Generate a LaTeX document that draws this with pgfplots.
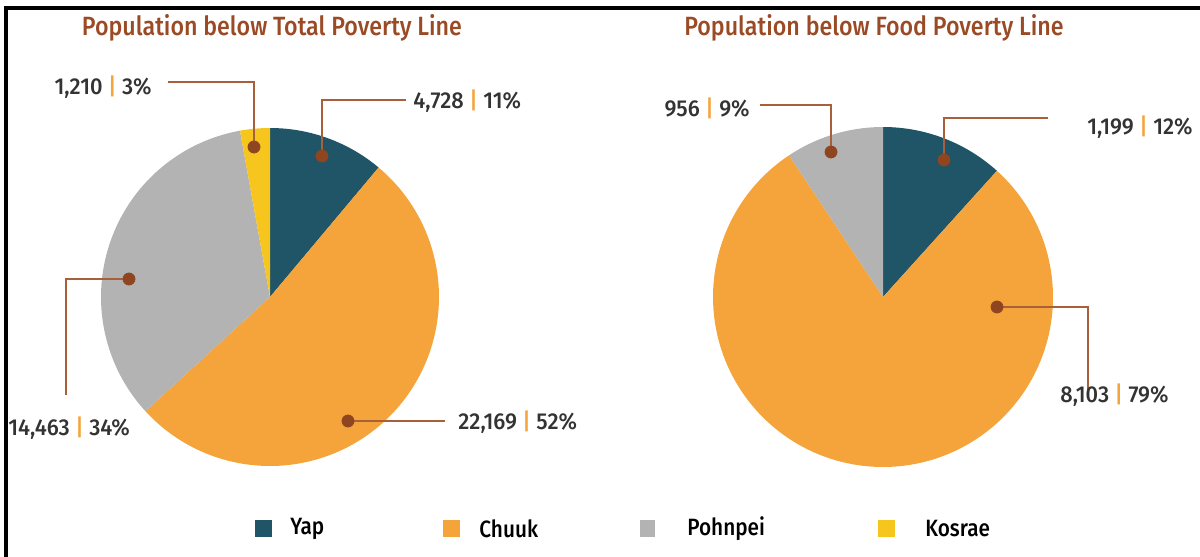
\documentclass[border=0pt]{standalone}
\usepackage{pgfplots}
\pgfplotsset{compat=1.18}
\usepackage{fontspec}
\setmainfont{Fira Sans}
\newfontfamily\cond{Fira Sans Medium}[FakeStretch=0.88]
\newfontfamily\med{Fira Sans Medium}[FakeStretch=0.95]
\definecolor{yap}{HTML}{1F5566}
\definecolor{chuuk}{HTML}{F4A43B}
\definecolor{pohnpei}{HTML}{B3B3B3}
\definecolor{kosrae}{HTML}{F6C51E}
\definecolor{ttl}{HTML}{9A4A24}
\definecolor{dotc}{HTML}{8E4520}
\definecolor{leadc}{HTML}{A8603A}
\definecolor{txt}{HTML}{333333}
\newcommand{\lbl}{\med\fontsize{11.5}{13}\selectfont\color{txt}}
\newcommand{\sep}{ \textcolor{chuuk}{|} }
% values
\def\TYap{4728}\def\TChuuk{22169}\def\TPohnpei{14463}\def\TKosrae{1210}
\def\FYap{1199}\def\FChuuk{8103}\def\FPohnpei{956}
\edef\tA{\fpeval{round(360*\TYap/(\TYap+\TChuuk+\TPohnpei+\TKosrae),3)}}
\edef\tB{\fpeval{round(360*(\TYap+\TChuuk)/(\TYap+\TChuuk+\TPohnpei+\TKosrae),3)}}
\edef\tC{\fpeval{round(360*(\TYap+\TChuuk+\TPohnpei)/(\TYap+\TChuuk+\TPohnpei+\TKosrae),3)}}
\edef\fA{\fpeval{round(360*\FYap/(\FYap+\FChuuk+\FPohnpei),3)}}
\edef\fB{\fpeval{round(360*(\FYap+\FChuuk)/(\FYap+\FChuuk+\FPohnpei),3)}}
\begin{document}
\begin{tikzpicture}
\begin{axis}[width=600pt,height=278.5pt,scale only axis,
  xmin=0,xmax=1200,ymin=0,ymax=557,y dir=reverse,
  hide axis,clip=false]
% frame (top bar and left edge)
\fill[black] (axis cs:5,6) rectangle (axis cs:1200,10);
\fill[black] (axis cs:4,6) rectangle (axis cs:8,557);
% titles
\node[font=\cond\fontsize{13.2}{15}\selectfont,color=ttl] at (axis cs:272,28) {Population below Total Poverty Line};
\node[font=\cond\fontsize{13.2}{15}\selectfont,color=ttl] at (axis cs:874,28) {Population below Food Poverty Line};
% left pie
\addplot[fill=yap,draw=none,domain=0:\tA,samples=60] ({270+169*sin(x)},{297-169*cos(x)}) -- (axis cs:270,297) -- cycle;
\addplot[fill=chuuk,draw=none,domain=\tA:\tB,samples=120] ({270+169*sin(x)},{297-169*cos(x)}) -- (axis cs:270,297) -- cycle;
\addplot[fill=pohnpei,draw=none,domain=\tB:\tC,samples=100] ({270+169*sin(x)},{297-169*cos(x)}) -- (axis cs:270,297) -- cycle;
\addplot[fill=kosrae,draw=none,domain=\tC:360,samples=20] ({270+169*sin(x)},{297-169*cos(x)}) -- (axis cs:270,297) -- cycle;
% right pie
\addplot[fill=yap,draw=none,domain=0:\fA,samples=60] ({883+170*sin(x)},{297-170*cos(x)}) -- (axis cs:883,297) -- cycle;
\addplot[fill=chuuk,draw=none,domain=\fA:\fB,samples=160] ({883+170*sin(x)},{297-170*cos(x)}) -- (axis cs:883,297) -- cycle;
\addplot[fill=pohnpei,draw=none,domain=\fB:360,samples=40] ({883+170*sin(x)},{297-170*cos(x)}) -- (axis cs:883,297) -- cycle;
% leader lines
\addplot[leadc,line width=0.8pt] coordinates {(168,82) (254,82) (254,147)};
\addplot[leadc,line width=0.8pt] coordinates {(322,156) (322,100) (406,100)};
\addplot[leadc,line width=0.8pt] coordinates {(129,279) (66,279) (66,395)};
\addplot[leadc,line width=0.8pt] coordinates {(348,421) (445,421)};
\addplot[leadc,line width=0.8pt] coordinates {(760,105) (831,105) (831,152)};
\addplot[leadc,line width=0.8pt] coordinates {(944,160) (944,118) (1048,118)};
\addplot[leadc,line width=0.8pt] coordinates {(997,307) (1088,307) (1088,390)};
% dots
\addplot[only marks,mark=*,mark size=3pt,mark options={fill=dotc,draw=dotc}] coordinates {(254,147) (322,156) (129,279) (348,421) (831,152) (944,160) (997,307)};
% labels
\node[anchor=east,inner sep=0,font=\lbl] at (axis cs:152,87) {1,210\sep 3\%};
\node[anchor=west,inner sep=0,font=\lbl] at (axis cs:413,101) {4,728\sep 11\%};
\node[anchor=west,inner sep=0,font=\lbl] at (axis cs:8,428) {14,463\sep 34\%};
\node[anchor=west,inner sep=0,font=\lbl] at (axis cs:458,422) {22,169\sep 52\%};
\node[anchor=east,inner sep=0,font=\lbl] at (axis cs:750,108) {956\sep 9\%};
\node[anchor=east,inner sep=0,font=\lbl] at (axis cs:1193,127) {1,199\sep 12\%};
\node[anchor=west,inner sep=0,font=\lbl] at (axis cs:1060,395) {8,103\sep 79\%};
% legend
\fill[yap] (axis cs:255,520) rectangle (axis cs:272,537);
\fill[chuuk] (axis cs:443,520) rectangle (axis cs:460,537);
\fill[pohnpei] (axis cs:640,520) rectangle (axis cs:655,537);
\fill[kosrae] (axis cs:878,520) rectangle (axis cs:895,537);
\node[anchor=west,inner sep=0,font=\cond\fontsize{11.8}{13}\selectfont] at (axis cs:290,529) {Yap};
\node[anchor=west,inner sep=0,font=\cond\fontsize{11.8}{13}\selectfont] at (axis cs:479,529) {Chuuk};
\node[anchor=west,inner sep=0,font=\cond\fontsize{11.8}{13}\selectfont] at (axis cs:687,529) {Pohnpei};
\node[anchor=west,inner sep=0,font=\cond\fontsize{11.8}{13}\selectfont] at (axis cs:925,529) {Kosrae};
\end{axis}
\pgfresetboundingbox
\path (current axis.south west) rectangle (current axis.north east);
\end{tikzpicture}
\end{document}
